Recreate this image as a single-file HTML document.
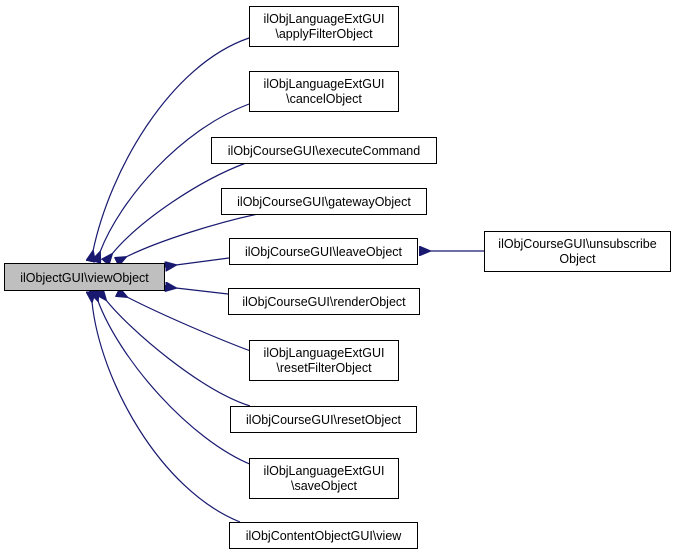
<!DOCTYPE html>
<html><head><meta charset="utf-8"><style>
html,body{margin:0;padding:0;background:#fff;}
svg{display:block;}
text{font-family:"Liberation Sans",sans-serif;font-size:12.5px;fill:#000;}
</style></head><body>
<svg width="677" height="555" viewBox="0 0 677 555" xmlns="http://www.w3.org/2000/svg">
<defs>
<marker id="a" markerWidth="12" markerHeight="10" refX="1" refY="5" orient="auto" markerUnits="userSpaceOnUse">
<path d="M12,0 L0,5 L12,10 Z" fill="#191970" stroke="#191970"/>
</marker>
</defs>
<g fill="none" stroke="#191970" stroke-width="1.2">
<path d="M249,38 C170,65 110,170 93,251" marker-start="url(#a)" transform="" style="marker-start:none" marker-end="url(#a)"/>
<path d="M249,104 C180,130 120,200 100,252" marker-end="url(#a)"/>
<path d="M246,163 C200,180 140,220 112,254" marker-end="url(#a)"/>
<path d="M258,214 C220,222 160,240 126,257" marker-end="url(#a)"/>
<path d="M229,258 L176,265" marker-end="url(#a)"/>
<path d="M228,294 L176,288" marker-end="url(#a)"/>
<path d="M256,353 C220,340 160,314 127,297" marker-end="url(#a)"/>
<path d="M250,406 C200,390 130,330 106,300" marker-end="url(#a)"/>
<path d="M252,465 C190,440 120,360 98,301" marker-end="url(#a)"/>
<path d="M240,522 C160,490 100,380 92,302" marker-end="url(#a)"/>
<path d="M484,251 L430,251" marker-end="url(#a)"/>
</g>
<g stroke="#000" stroke-width="1" fill="#fff">
<rect x="4.5" y="263.5" width="160" height="27" fill="#bfbfbf"/>
<rect x="249.5" y="6.5" width="149" height="40"/>
<rect x="249.5" y="71.5" width="149" height="40"/>
<rect x="211.5" y="137.5" width="225" height="26"/>
<rect x="221.5" y="188.5" width="205" height="26"/>
<rect x="229.5" y="238.5" width="188" height="26"/>
<rect x="228.5" y="288.5" width="191" height="26"/>
<rect x="249.5" y="340.5" width="149" height="40"/>
<rect x="230.5" y="406.5" width="186" height="26"/>
<rect x="249.5" y="458.5" width="149" height="40"/>
<rect x="229.5" y="522.5" width="188" height="26"/>
<rect x="484.5" y="231.5" width="186" height="40"/>
</g>
<g text-anchor="middle">
<text x="84.5" y="282">ilObjectGUI\viewObject</text>
<text x="324" y="23">ilObjLanguageExtGUI</text><text x="324" y="38">\applyFilterObject</text>
<text x="324" y="88">ilObjLanguageExtGUI</text><text x="324" y="103">\cancelObject</text>
<text x="324" y="155">ilObjCourseGUI\executeCommand</text>
<text x="324" y="206">ilObjCourseGUI\gatewayObject</text>
<text x="323.5" y="256">ilObjCourseGUI\leaveObject</text>
<text x="324" y="306">ilObjCourseGUI\renderObject</text>
<text x="324" y="357">ilObjLanguageExtGUI</text><text x="324" y="372">\resetFilterObject</text>
<text x="323.5" y="424">ilObjCourseGUI\resetObject</text>
<text x="324" y="475">ilObjLanguageExtGUI</text><text x="324" y="490">\saveObject</text>
<text x="323.5" y="540">ilObjContentObjectGUI\view</text>
<text x="577.5" y="248">ilObjCourseGUI\unsubscribe</text><text x="577.5" y="263">Object</text>
</g>
</svg>
</body></html>
